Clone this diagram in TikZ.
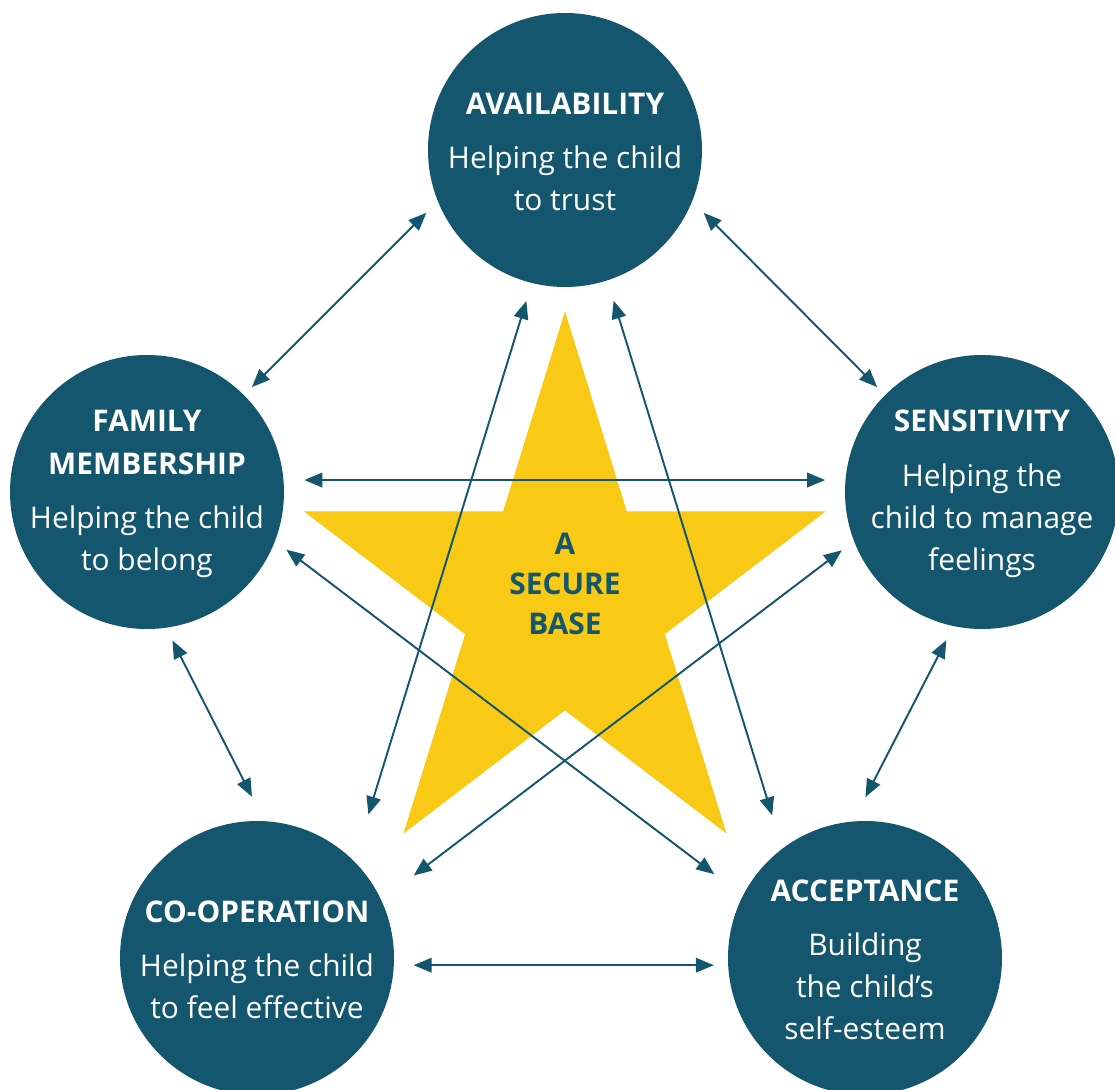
\documentclass[tikz,border=0pt]{standalone}
\usepackage{fontspec}
\setmainfont{Open Sans}
\usetikzlibrary{arrows.meta}
\definecolor{bleucanard}{RGB}{19,86,110}
\definecolor{jaune}{RGB}{248,201,21}
\begin{document}
\begin{tikzpicture}
		\tikzstyle{cercle}=[circle, minimum size=5.48cm, inner sep=0pt, fill=bleucanard]
		\tikzstyle{texte}=[text=white, align=center, font=\fontsize{17}{24}\selectfont]
		\tikzstyle{fleche}=[draw=bleucanard, line width=1.1pt, {Triangle[length=0.36cm,width=0.29cm]}-{Triangle[length=0.36cm,width=0.29cm]}]
		\useasboundingbox (0,0) rectangle (22.3,21.78);
		\clip (0,0) rectangle (22.3,21.78);
		% etoile
		\fill[jaune] (11.30,15.55) -- (8.07,5.11) -- (16.51,11.55) -- (6.08,11.55) -- (14.53,5.11) -- cycle;
		\node[text=bleucanard, align=center, font=\fontsize{17}{22.8}\selectfont\bfseries] (base) at (11.30,10.10) {A\\ SECURE\\ BASE};
		% cercles
		\node[cercle] (top) at (11.30,18.78) {}; % haut
		\node[cercle] (famille) at (2.94,11.94) {}; % gauche
		\node[cercle] (sensib) at (19.64,11.94) {}; % droite
		\node[cercle] (coop) at (5.14,2.62) {}; % bas gauche
		\node[cercle] (accept) at (17.30,2.62) {}; % bas droite
		\node[texte] (top-txt) at ([yshift=-0.04cm]top) {\textbf{AVAILABILITY}\\[6.8pt] Helping the child\\ to trust};
		\node[texte] (famille-txt) at ([yshift=-0.04cm]famille) {\textbf{FAMILY}\\ \textbf{MEMBERSHIP}\\[6.8pt] Helping the child\\ to belong};
		\node[texte] (sensib-txt) at ([yshift=-0.04cm]sensib) {\textbf{SENSITIVITY}\\[6.8pt] Helping the\\ child to manage\\ feelings};
		\node[texte] (coop-txt) at ([yshift=-0.04cm]coop) {\textbf{CO-OPERATION}\\[6.8pt] Helping the child\\ to feel effective};
		\node[texte] (accept-txt) at ([yshift=-0.04cm]accept) {\textbf{ACCEPTANCE}\\[6.8pt] Building\\ the child’s\\ self-esteem};
		% fleches
		\draw[fleche, shorten <=0.32cm, shorten >=0.22cm] (top.202) -- (famille.45);
		\draw[fleche, shorten <=0.32cm, shorten >=0.22cm] (top.338) -- (sensib.135);
		\draw[fleche, shorten <=0.41cm, shorten >=0.40cm] (famille.5) -- (sensib.175);
		\draw[fleche, shorten <=0.28cm, shorten >=0.54cm] (famille.278) -- (coop.87);
		\draw[fleche, shorten <=0.31cm, shorten >=0.54cm] (sensib.258) -- (accept.95);
		\draw[fleche, shorten <=0.39cm, shorten >=0.28cm] (coop.357) -- (accept.183);
		\draw[fleche, shorten <=0.37cm, shorten >=0.97cm] (top.256) -- (coop.45);
		\draw[fleche, shorten <=0.42cm, shorten >=0.69cm] (top.288) -- (accept.127);
		\draw[fleche, shorten <=0.28cm, shorten >=0.71cm] (famille.339) -- (accept.153);
		\draw[fleche, shorten <=0.30cm, shorten >=0.81cm] (sensib.201) -- (coop.25);
	\end{tikzpicture}
\end{document}
